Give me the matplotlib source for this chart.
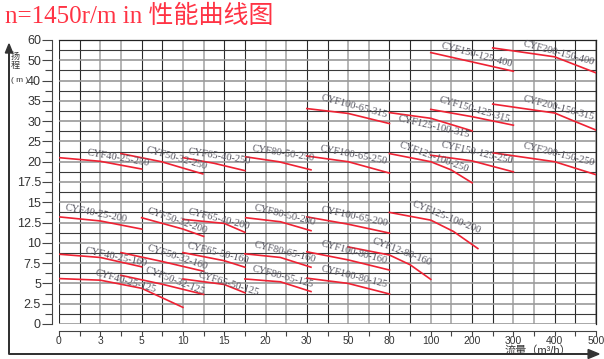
import numpy as np
import matplotlib
matplotlib.use("Agg")
import matplotlib.pyplot as plt

# axis tick values (both axes are stretched: equal spacing per tick)
x_ticks = [0, 3, 5, 10, 15, 20, 30, 50, 80, 100, 200, 300, 400, 500]
y_ticks = [0, 2.5, 5, 7.5, 10, 12.5, 15, 17.5, 20, 25, 30, 35, 40, 50, 60]

# pump curves: flow (m3/h) and head (m)
names = ["CYF40-25-250", "CYF50-32-250", "CYF65-40-250", "CYF80-50-250",
         "CYF100-65-250", "CYF125-100-250", "CYF150-125-250", "CYF200-150-250",
         "CYF100-65-315", "CYF125-100-315", "CYF150-125-315", "CYF200-150-315",
         "CYF150-125-400", "CYF200-150-400",
         "CYF40-25-200", "CYF50-32-200", "CYF65-40-200", "CYF80-50-200",
         "CYF100-65-200", "CYF125-100-200",
         "CYF40-25-160", "CYF50-32-160", "CYF65-50-160", "CYF80-65-160",
         "CYF100-80-160", "CYF12-80-160",
         "CYF40-25-125", "CYF50-32-125", "CYF65-50-125", "CYF80-65-125",
         "CYF100-80-125"]

flows = [[0, 3, 5], [4, 7.4, 12.4], [10, 13.8, 17.5], [17.6, 23.2, 32],
         [30, 50, 80], [80, 100, 149, 200], [100, 200, 300], [250, 400, 500],
         [30, 50, 80], [80, 100, 200], [100, 200, 300], [250, 400, 440, 500],
         [100, 200, 300], [250, 400, 500],
         [0, 3, 5], [5, 10, 12.5], [10, 15, 17.5], [17.6, 23.6, 32],
         [30, 50, 80], [80, 100, 155, 214],
         [0, 3, 5], [4, 7.5, 12.5], [10, 15, 17.5], [17.5, 23.6, 32],
         [30, 50, 80], [50, 80, 90, 100],
         [0, 3, 5, 10], [4, 7.5, 12.5], [10, 15, 17.5], [17.5, 23.6, 32],
         [30, 50, 80]]

heads = [[21.0, 20.1, 19.1], [22.0, 20.0, 18.5], [21.0, 19.8, 18.9], [21.2, 20.0, 19.0],
         [21.4, 20.0, 18.6], [22.0, 20.0, 19.0, 17.4], [21.6, 20.2, 18.75], [22.2, 20.0, 18.4],
         [33.1, 31.9, 29.4], [32.1, 30.7, 27.6], [32.9, 31.1, 29.0], [34.2, 32.0, 30.3, 27.8],
         [53.8, 49.2, 44.6], [56.1, 51.7, 43.8],
         [13.2, 12.7, 11.7], [13.1, 11.7, 10.8], [12.9, 12.4, 11.3], [13.1, 12.6, 11.5],
         [13.2, 12.3, 11.2], [13.75, 12.8, 11.4, 9.3],
         [8.6, 8.2, 7.05], [8.8, 7.7, 6.5], [8.8, 7.8, 7.0], [8.65, 8.2, 7.0],
         [8.9, 7.9, 6.65], [9.5, 8.5, 7.3, 5.5],
         [5.6, 5.4, 4.4, 2.05], [6.0, 4.9, 3.65], [5.55, 4.87, 3.85], [5.55, 5.2, 4.0],
         [5.65, 5.0, 3.7]]

# label anchor (flow, head) and angle in degrees
label_q = [3.85, 9.3, 14.4, 24.3, 54.2, 108, 211, 411,
           54.5, 108, 207, 409, 211, 409,
           2.7, 9.3, 14.4, 24.6, 54.5, 137,
           3.74, 9.3, 14.3, 24.6, 54.5, 86,
           4.24, 9.0, 15.5, 24.2, 54.5]
label_h = [21.0, 20.9, 21.2, 22.0, 21.6, 21.0, 22.2, 21.9,
           33.7, 28.6, 32.8, 33.1, 52.8, 53.6,
           13.6, 12.66, 12.97, 13.4, 13.27, 13.1,
           8.3, 8.25, 8.77, 8.8, 8.8, 8.9,
           5.26, 5.32, 5.0, 5.8, 5.8]
label_ang = [10, 16, 9, 9, 11, 20, 13, 14,
             15, 13, 16, 15, 15, 15,
             11, 19, 14, 14, 12, 22,
             12, 18, 14, 14, 15, 21,
             16, 21, 17, 15, 14]

xpos = np.arange(len(x_ticks))
ypos = np.arange(len(y_ticks))


def fx(v):
    return np.interp(v, x_ticks, xpos)


def fx_inv(v):
    return np.interp(v, xpos, x_ticks)


def fy(v):
    return np.interp(v, y_ticks, ypos)


def fy_inv(v):
    return np.interp(v, ypos, y_ticks)


plt.rcParams['font.family'] = ['Liberation Sans', 'Noto Sans CJK SC']

fig = plt.figure(figsize=(6.04, 3.59), dpi=100)
ax = fig.add_axes([59 / 604, 1 - 324 / 359, 537 / 604, 284 / 359])
ax.set_xscale('function', functions=(fx, fx_inv))
ax.set_yscale('function', functions=(fy, fy_inv))
ax.set_xlim(0, 500)
ax.set_ylim(0, 60)

# grid, alternating dark and light pairs
xg = fx_inv(np.arange(0, 13.01, 0.5))
yg = fy_inv(np.arange(0, 14.01, 0.5))
for i, v in enumerate(xg):
    if (i // 2) % 2 == 0:
        ax.axvline(v, color='#2a2a2a', lw=0.8, zorder=1)
    else:
        ax.axvline(v, color='#b4b4b4', lw=1.4, zorder=1)
for i, v in enumerate(yg):
    if i % 2 == 0:
        ax.axhline(v, color='#9a9a9a', lw=1.2, zorder=1)
    else:
        ax.axhline(v, color='#3a3a3a', lw=0.8, zorder=1)

for name, q, h in zip(names, flows, heads):
    ax.plot(q, h, color='#ee2233', lw=1.2, zorder=3)

for name, q, h, a in zip(names, label_q, label_h, label_ang):
    ax.text(q, h, name, rotation=-a, rotation_mode='anchor', ha='center', va='center',
            fontsize=7.5, color='#555560', family='Liberation Serif', zorder=4)

ax.set_xticks(x_ticks)
ax.set_xticklabels([str(v) for v in x_ticks])
ax.set_xticks(fx_inv(np.arange(0.5, 13, 1.0)), minor=True)
ax.set_yticks(y_ticks)
ax.set_yticklabels(['0', '2.5', '5', '7.5', '10', '12.5', '15', '17.5', '20', '25',
                    '30', '35', '40', '50', '60'])
ax.set_yticks(fy_inv(np.arange(0.5, 14, 1.0)), minor=True)

ax.spines['left'].set_position(('outward', 5))
ax.spines['bottom'].set_position(('outward', 5))
for s in ['top', 'right']:
    ax.spines[s].set_color('#222222')
    ax.spines[s].set_linewidth(0.9)
for s in ['left', 'bottom']:
    ax.spines[s].set_color('#444444')
    ax.spines[s].set_linewidth(0.8)
ax.tick_params(axis='x', which='both', direction='out', length=3.5, width=0.8,
               color='#444444', labelsize=7.5, labelcolor='#333333', pad=0)
ax.tick_params(axis='y', which='major', direction='out', length=7, width=0.8,
               color='#444444', labelsize=9, labelcolor='#333333', pad=1)
ax.tick_params(axis='y', which='minor', direction='out', length=5, width=0.8, color='#444444')

# outer arrows
fig.add_artist(matplotlib.patches.FancyArrow(9 / 604, 1 - 354 / 359, 0, 310 / 359, width=0.0008,
                                             head_width=0.012, head_length=0.025,
                                             color='#333333', length_includes_head=True))
fig.add_artist(matplotlib.patches.FancyArrow(9 / 604, 1 - 354 / 359, 590 / 604, 0, width=0.0014,
                                             head_width=0.025, head_length=0.018,
                                             color='#333333', length_includes_head=True))

fig.text(15 / 604, 1 - 61 / 359, "扬\n程", fontsize=6.5, color='#333333', ha='center',
         va='center', linespacing=1.0)
fig.text(20 / 604, 1 - 81 / 359, "( m )", fontsize=6, color='#333333', ha='center', va='center')
fig.text(538 / 604, 1 - 350.5 / 359, "流量（m³/h）", fontsize=8, color='#333333',
         ha='center', va='center')
fig.text(5 / 604, 1 - 16 / 359, "n=1450r/m in 性能曲线图", fontsize=18, color='#ff3344',
         ha='left', va='center', family=['Liberation Serif', 'Noto Sans CJK SC'])

fig.savefig("out.png", dpi=100)
